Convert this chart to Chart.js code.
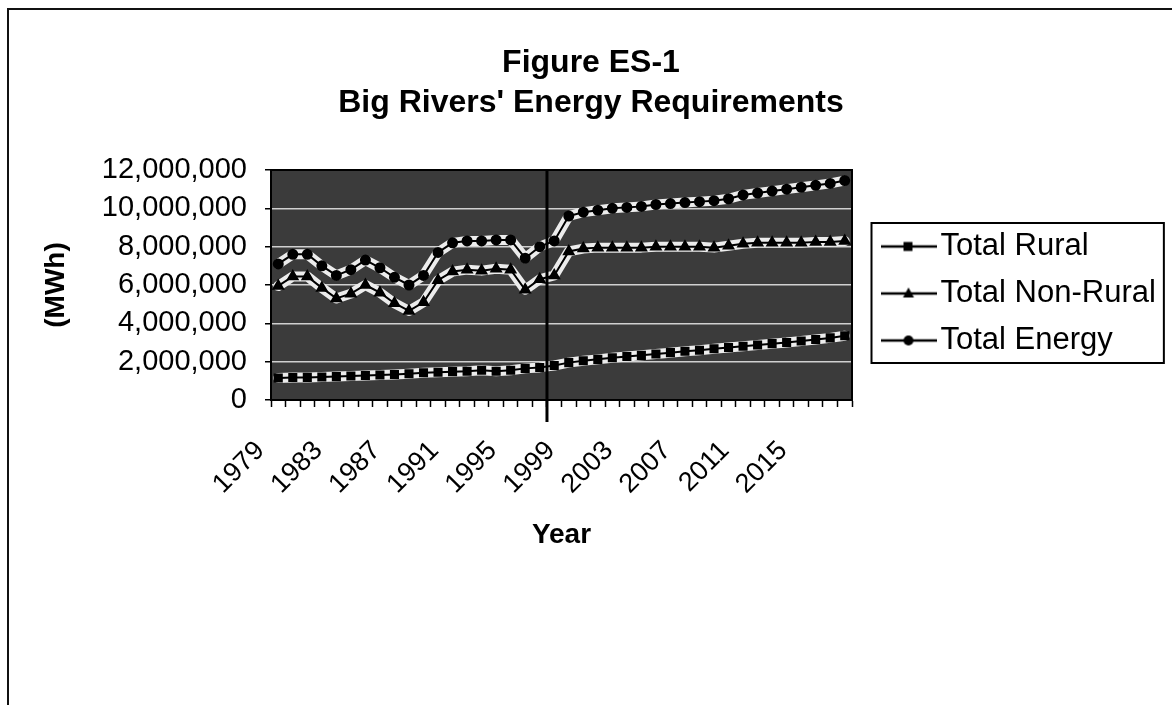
<!DOCTYPE html>
<html>
<head>
<meta charset="utf-8">
<title>Figure ES-1</title>
<script src="https://cdn.jsdelivr.net/npm/chart.js@4.4.1/dist/chart.umd.min.js"></script>
<style>
  html, body { margin: 0; padding: 0; background: #fff; }
  #wrap { position: relative; width: 1172px; height: 705px; overflow: hidden; }
  #energyChart { display: block; }
  #frame { position: absolute; left: 7px; top: 8px; right: -4px; bottom: -4px; border-left: 2px solid #111; border-top: 2px solid #111; pointer-events: none; }
</style>
</head>
<body>
<div id="wrap">
  <canvas id="energyChart" width="1172" height="705"></canvas>
  <div id="frame"></div>
</div>
<script>
// Years on the category axis
const years = [
  "1979", "1980", "1981", "1982", "1983", "1984", "1985", "1986", "1987", "1988",
  "1989", "1990", "1991", "1992", "1993", "1994", "1995", "1996", "1997", "1998",
  "1999", "2000", "2001", "2002", "2003", "2004", "2005", "2006", "2007", "2008",
  "2009", "2010", "2011", "2012", "2013", "2014", "2015", "2016", "2017", "2018",
];

// Only every fourth year gets a label
const shownYears = ["1979", "1983", "1987", "1991", "1995", "1999", "2003", "2007", "2011", "2015"];

// Values in MWh
const totalRural = [
  1150000, 1170000, 1180000, 1200000, 1220000, 1250000, 1280000, 1300000, 1330000, 1370000,
  1420000, 1450000, 1480000, 1500000, 1550000, 1500000, 1550000, 1650000, 1700000, 1800000,
  1950000, 2050000, 2120000, 2200000, 2270000, 2330000, 2400000, 2470000, 2540000, 2600000,
  2670000, 2740000, 2800000, 2870000, 2940000, 3000000, 3080000, 3160000, 3240000, 3350000,
];

const totalNonRural = [
  5950000, 6450000, 6450000, 5850000, 5300000, 5550000, 6000000, 5600000, 5050000, 4650000,
  5100000, 6250000, 6700000, 6800000, 6750000, 6850000, 6800000, 5750000, 6300000, 6500000,
  7750000, 7900000, 7950000, 7950000, 7950000, 7950000, 8000000, 8000000, 8000000, 8000000,
  7950000, 8050000, 8150000, 8200000, 8200000, 8200000, 8200000, 8250000, 8250000, 8300000,
];

const totalEnergy = [
  7100000, 7600000, 7600000, 7000000, 6500000, 6800000, 7300000, 6900000, 6400000, 6000000,
  6500000, 7700000, 8200000, 8300000, 8300000, 8350000, 8350000, 7400000, 8000000, 8300000,
  9600000, 9800000, 9900000, 10000000, 10050000, 10100000, 10200000, 10250000, 10300000, 10350000,
  10400000, 10500000, 10700000, 10800000, 10900000, 11000000, 11100000, 11200000, 11300000, 11450000,
];

// Forecast divider sits between these two years
const dividerAfter = "1997";

const FONT = "'Liberation Sans', Arial, sans-serif";

// Small line+marker icon for the legend entries
function legendIcon(style) {
  const c = document.createElement("canvas");
  c.width = 56;
  c.height = 16;
  const g = c.getContext("2d");
  g.strokeStyle = "#000";
  g.fillStyle = "#000";
  g.lineWidth = 2.5;
  g.beginPath();
  g.moveTo(0, 8);
  g.lineTo(56, 8);
  g.stroke();
  g.beginPath();
  if (style === "rect") {
    g.rect(23, 3.5, 9, 9);
  } else if (style === "triangle") {
    g.moveTo(28, 2);
    g.lineTo(33.5, 12);
    g.lineTo(22.5, 12);
    g.closePath();
  } else {
    g.arc(28, 8, 5, 0, Math.PI * 2);
  }
  g.fill();
  return c;
}

// Dark plot background, like the scanned halftone
const plotBackground = {
  id: "plotBackground",
  beforeDraw(chart) {
    const { ctx, chartArea: a } = chart;
    ctx.save();
    ctx.fillStyle = "#3b3b3b";
    ctx.fillRect(a.left, a.top, a.right - a.left, a.bottom - a.top);
    ctx.restore();
  },
};

// Light band behind each series
const lineHalo = {
  id: "lineHalo",
  beforeDatasetsDraw(chart) {
    const { ctx } = chart;
    ctx.save();
    ctx.strokeStyle = "#ececec";
    ctx.lineWidth = 10;
    ctx.lineJoin = "round";
    ctx.lineCap = "round";
    chart.data.datasets.forEach((ds, i) => {
      const pts = chart.getDatasetMeta(i).data;
      ctx.beginPath();
      pts.forEach((p, j) => (j === 0 ? ctx.moveTo(p.x, p.y) : ctx.lineTo(p.x, p.y)));
      ctx.stroke();
    });
    ctx.restore();
  },
};

// Fixed legend width so the plot ends where the original does,
// then nudge the legend block into place
const legendPlacement = {
  id: "legendPlacement",
  afterInit(chart) {
    const lg = chart.legend;
    const fit = lg.fit.bind(lg);
    lg.fit = function () {
      fit();
      this.width = 300;
    };
  },
  afterLayout(chart) {
    const lg = chart.legend;
    const w = lg.width;
    lg.left = 876;
    lg.right = lg.left + w;
    lg.top -= 69;
    lg.bottom -= 69;
  },
};

// Vertical divider, plot frame and legend box
const extras = {
  id: "extras",
  afterDatasetsDraw(chart) {
    const { ctx, chartArea: a } = chart;
    const xs = chart.scales.x;
    const i = years.indexOf(dividerAfter);
    const x = (xs.getPixelForValue(i) + xs.getPixelForValue(i + 1)) / 2;
    ctx.save();
    ctx.strokeStyle = "#000";
    ctx.lineWidth = 3;
    ctx.beginPath();
    ctx.moveTo(x, a.top);
    ctx.lineTo(x, a.bottom + 22);
    ctx.stroke();
    ctx.lineWidth = 2;
    ctx.strokeRect(a.left, a.top, a.right - a.left, a.bottom - a.top);
    ctx.restore();
  },
  afterDraw(chart) {
    const boxes = chart.legend && chart.legend.legendHitBoxes;
    if (!boxes || !boxes.length) return;
    const { ctx } = chart;
    const left = Math.min(...boxes.map((b) => b.left)) - 20.5;
    const right = Math.max(...boxes.map((b) => b.left + b.width)) + 8;
    const top = boxes[0].top - 8;
    const last = boxes[boxes.length - 1];
    const bottom = last.top + last.height + 7;
    ctx.save();
    ctx.strokeStyle = "#000";
    ctx.lineWidth = 2;
    ctx.strokeRect(left, top, right - left, bottom - top);
    ctx.restore();
  },
};

const seriesStyle = {
  borderColor: "#000",
  backgroundColor: "#000",
  pointBackgroundColor: "#000",
  pointBorderColor: "#000",
  borderWidth: 2,
  tension: 0,
  fill: false,
};

new Chart(document.getElementById("energyChart"), {
  type: "line",
  data: {
    labels: years,
    datasets: [
      { ...seriesStyle, label: "Total Rural", data: totalRural, pointStyle: "rect", pointRadius: 5 },
      { ...seriesStyle, label: "Total Non-Rural", data: totalNonRural, pointStyle: "triangle", pointRadius: 5.5 },
      { ...seriesStyle, label: "Total Energy", data: totalEnergy, pointStyle: "circle", pointRadius: 4.5 },
    ],
  },
  options: {
    responsive: false,
    animation: false,
    layout: { padding: { left: 30, right: 20, top: 20, bottom: 0 } },
    plugins: {
      title: {
        display: true,
        text: ["Figure ES-1", "Big Rivers' Energy Requirements"],
        color: "#000",
        font: { family: FONT, size: 32, weight: "bold", lineHeight: 1.25 },
        padding: { top: 23, bottom: 47 },
      },
      legend: {
        position: "right",
        labels: {
          color: "#000",
          font: { family: FONT, size: 31 },
          padding: 16,
          usePointStyle: true,
          pointStyleWidth: 33,
          generateLabels(chart) {
            const styles = ["rect", "triangle", "circle"];
            return chart.data.datasets.map((ds, i) => ({
              text: ds.label,
              fontColor: "#000",
              pointStyle: legendIcon(styles[i]),
              fillStyle: "#000",
              strokeStyle: "#000",
              lineWidth: 0,
              hidden: false,
              datasetIndex: i,
            }));
          },
        },
      },
      tooltip: { enabled: false },
    },
    scales: {
      x: {
        offset: true,
        grid: { offset: true, drawOnChartArea: false, tickColor: "#000", tickLength: 7, tickWidth: 1.5 },
        border: { color: "#000", width: 2 },
        ticks: {
          autoSkip: false,
          minRotation: 45,
          maxRotation: 45,
          color: "#000",
          font: { family: FONT, size: 27 },
          labelOffset: -18,
          padding: 28,
          callback(value, index) {
            const y = years[index];
            return shownYears.includes(y) ? y : "";
          },
        },
        title: {
          display: true,
          text: "Year",
          color: "#000",
          font: { family: FONT, size: 28, weight: "bold" },
          padding: { top: 4, bottom: 153 },
        },
        afterFit(scale) {
          scale.height = 305;
        },
      },
      y: {
        min: 0,
        max: 12000000,
        grid: { color: "#d0d0d0", lineWidth: 1.5, tickColor: "#000", tickLength: 6 },
        border: { color: "#000", width: 2 },
        ticks: {
          stepSize: 2000000,
          color: "#000",
          padding: 18,
          font: { family: FONT, size: 29 },
          callback: (v) => v.toLocaleString("en-US"),
        },
        title: {
          display: true,
          text: "(MWh)",
          color: "#000",
          font: { family: FONT, size: 28, weight: "bold" },
          padding: { top: 9, bottom: 4 },
        },
        afterFit(scale) {
          scale.width = 241;
        },
      },
    },
  },
  plugins: [plotBackground, lineHalo, legendPlacement, extras],
});
</script>
</body>
</html>
